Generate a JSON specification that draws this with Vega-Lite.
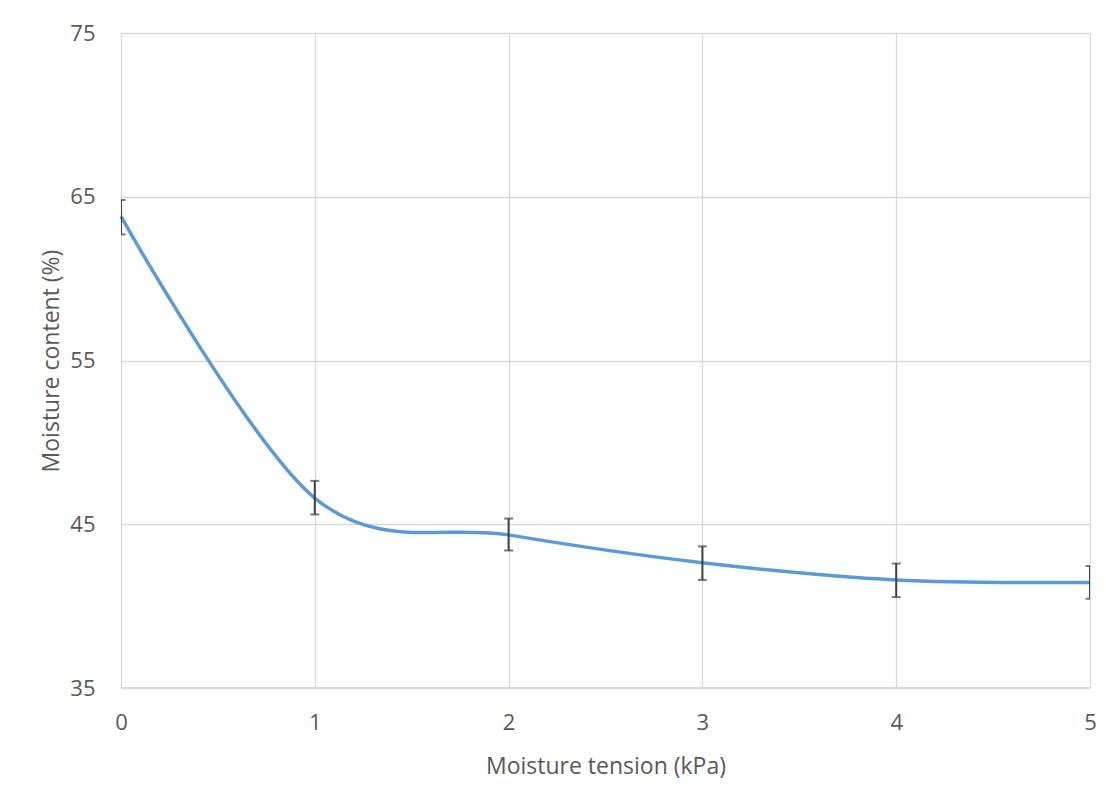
{
  "$schema": "https://vega.github.io/schema/vega-lite/v6.json",
  "autosize": {"type": "none"},
  "padding": {"left": 121, "top": 33, "right": 16, "bottom": 108},
  "width": 969,
  "height": 655,
  "background": "white",
  "config": {
    "view": {"stroke": null},
    "font": "Open Sans",
    "axis": {
      "gridColor": "#d9d9d9",
      "gridWidth": 1.3,
      "domain": false,
      "ticks": false,
      "labelColor": "#595959",
      "titleColor": "#595959",
      "labelFontSize": 22,
      "titleFontSize": 23,
      "titleFontWeight": "normal",
      "labelFont": "Open Sans",
      "titleFont": "Open Sans",
      "labelFlush": false
    }
  },
  "data": {
    "values": [
      {"t": 0, "m": 63.8, "lo": 62.7, "hi": 64.8},
      {"t": 1, "m": 46.6, "lo": 45.6, "hi": 47.65},
      {"t": 2, "m": 44.35, "lo": 43.4, "hi": 45.35},
      {"t": 3, "m": 42.65, "lo": 41.6, "hi": 43.65},
      {"t": 4, "m": 41.6, "lo": 40.55, "hi": 42.6},
      {"t": 5, "m": 41.45, "lo": 40.45, "hi": 42.45}
    ]
  },
  "encoding": {
    "x": {
      "field": "t", "type": "quantitative",
      "scale": {"domain": [0, 5], "nice": false, "zero": false},
      "axis": {"values": [0, 1, 2, 3, 4, 5], "title": "Moisture tension (kPa)", "labelPadding": 24, "titlePadding": 22, "grid": true}
    }
  },
  "layer": [
    {
      "mark": {"type": "rule", "color": "#d9d9d9", "strokeWidth": 1.3},
      "encoding": {"y": {"datum": 35, "type": "quantitative"}, "x": null}
    },
    {
      "mark": {"type": "line", "interpolate": "cardinal", "tension": 0, "color": "#5b9bd5", "strokeWidth": 3.5},
      "encoding": {
        "y": {
          "field": "m", "type": "quantitative",
          "scale": {"domain": [35, 75], "nice": false, "zero": false},
          "axis": {"values": [35, 45, 55, 65, 75], "title": "Moisture content (%)", "labelPadding": 26, "titlePadding": 6, "grid": true}
        }
      }
    },
    {
      "mark": {"type": "rule", "color": "#404040", "strokeWidth": 2, "clip": true},
      "encoding": {"y": {"field": "lo", "type": "quantitative"}, "y2": {"field": "hi"}}
    },
    {
      "mark": {"type": "tick", "orient": "horizontal", "color": "#404040", "size": 9, "thickness": 2, "clip": true},
      "encoding": {"y": {"field": "lo", "type": "quantitative"}}
    },
    {
      "mark": {"type": "tick", "orient": "horizontal", "color": "#404040", "size": 9, "thickness": 2, "clip": true},
      "encoding": {"y": {"field": "hi", "type": "quantitative"}}
    }
  ]
}
